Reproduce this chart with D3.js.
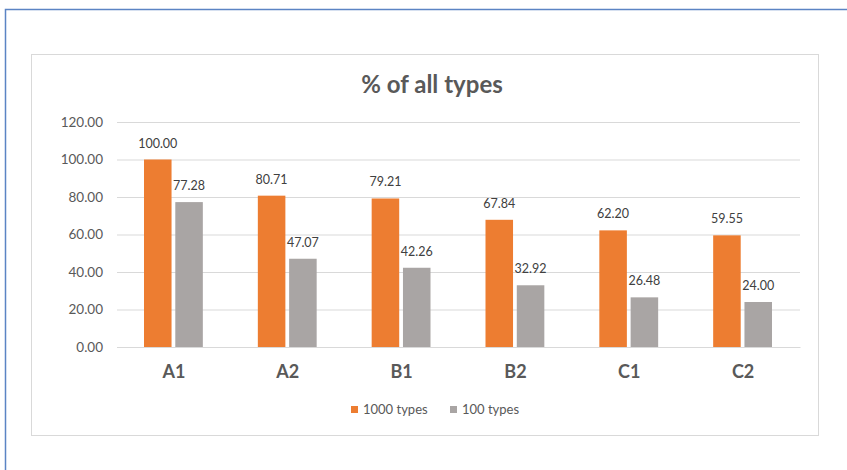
<!DOCTYPE html>
<html>
<head>
<meta charset="utf-8">
<script src="https://cdn.jsdelivr.net/npm/d3@7"></script>
<style>
  html, body { margin: 0; padding: 0; background: #fff; }
  svg { display: block; }
  text { font-family: Lato, "Open Sans", sans-serif; }
</style>
</head>
<body>
<svg id="chart" width="847" height="470"></svg>
<script>
const categories = ["A1", "A2", "B1", "B2", "C1", "C2"];
const seriesNames = ["1000 types", "100 types"];
const values1000 = [100.00, 80.71, 79.21, 67.84, 62.20, 59.55];
const values100 = [77.28, 47.07, 42.26, 32.92, 26.48, 24.00];
const yTicks = [0, 20, 40, 60, 80, 100, 120];
const colors = ["#ed7d31", "#a9a5a4"];

const svg = d3.select("#chart");

// page frame and chart area border
svg.append("rect").attr("x", 5.5).attr("y", 9.5).attr("width", 860).attr("height", 480)
  .attr("fill", "none").attr("stroke", "#5b84c4").attr("stroke-width", 1.5);
svg.append("rect").attr("x", 31.5).attr("y", 54.5).attr("width", 787).attr("height", 381)
  .attr("fill", "#fff").attr("stroke", "#d9d9d9").attr("stroke-width", 1);

const plot = { left: 117, right: 800, top: 122, bottom: 347 };

const x = d3.scaleBand().domain(categories).range([plot.left, plot.right]).paddingInner(0).paddingOuter(0);
const x1 = d3.scaleBand().domain(seriesNames).range([27, x.bandwidth() - 28]).paddingInner(0.12);
const y = d3.scaleLinear().domain([0, 120]).range([plot.bottom, plot.top]);

// title
svg.append("text").attr("x", 432).attr("y", 93).attr("text-anchor", "middle")
  .attr("font-size", 24).attr("font-weight", 700).attr("fill", "#595959").text("% of all types");

// gridlines and value axis labels
const yAxis = d3.axisLeft(y).tickValues(yTicks).tickSize(-(plot.right - plot.left))
  .tickFormat(d => d.toFixed(2)).tickPadding(14);
const gy = svg.append("g").attr("transform", `translate(${plot.left},0)`).call(yAxis);
gy.select(".domain").remove();
gy.selectAll(".tick line").attr("stroke", "#d9d9d9").attr("stroke-width", 1);
gy.selectAll(".tick text").attr("font-size", 13.5).attr("fill", "#595959")
  .attr("font-family", "Lato, sans-serif");

// bars
const data = categories.map((c, i) => ({ cat: c, vals: [values1000[i], values100[i]] }));
const groups = svg.append("g").selectAll("g").data(data).join("g")
  .attr("transform", d => `translate(${x(d.cat)},0)`);
groups.selectAll("rect").data(d => d.vals.map((v, j) => ({ v, s: seriesNames[j], j })))
  .join("rect")
  .attr("x", d => x1(d.s)).attr("width", x1.bandwidth())
  .attr("y", d => y(d.v)).attr("height", d => y(0) - y(d.v))
  .attr("fill", d => colors[d.j]);
groups.selectAll("text.val").data(d => d.vals.map((v, j) => ({ v, s: seriesNames[j], j })))
  .join("text").attr("class", "val")
  .attr("x", d => x1(d.s) + x1.bandwidth() / 2)
  .attr("y", d => y(d.v) - 12)
  .attr("text-anchor", "middle").attr("font-size", 12.5).attr("fill", "#404040")
  .text(d => d.v.toFixed(2));

// category axis
const gx = svg.append("g").attr("transform", `translate(0,${plot.bottom})`)
  .call(d3.axisBottom(x).tickSize(0).tickPadding(18));
gx.select(".domain").attr("stroke", "#d9d9d9");
gx.selectAll(".tick text").attr("font-size", 18).attr("font-weight", 700).attr("fill", "#595959")
  .attr("font-family", "Lato, sans-serif");

// legend
const legendX = [351, 450];
const legend = svg.append("g").selectAll("g").data(seriesNames).join("g")
  .attr("transform", (d, i) => `translate(${legendX[i]},406)`);
legend.append("rect").attr("width", 7).attr("height", 7).attr("fill", (d, i) => colors[i]);
legend.append("text").attr("x", 12).attr("y", 8).attr("font-size", 13).attr("fill", "#595959").text(d => d);
</script>
</body>
</html>
